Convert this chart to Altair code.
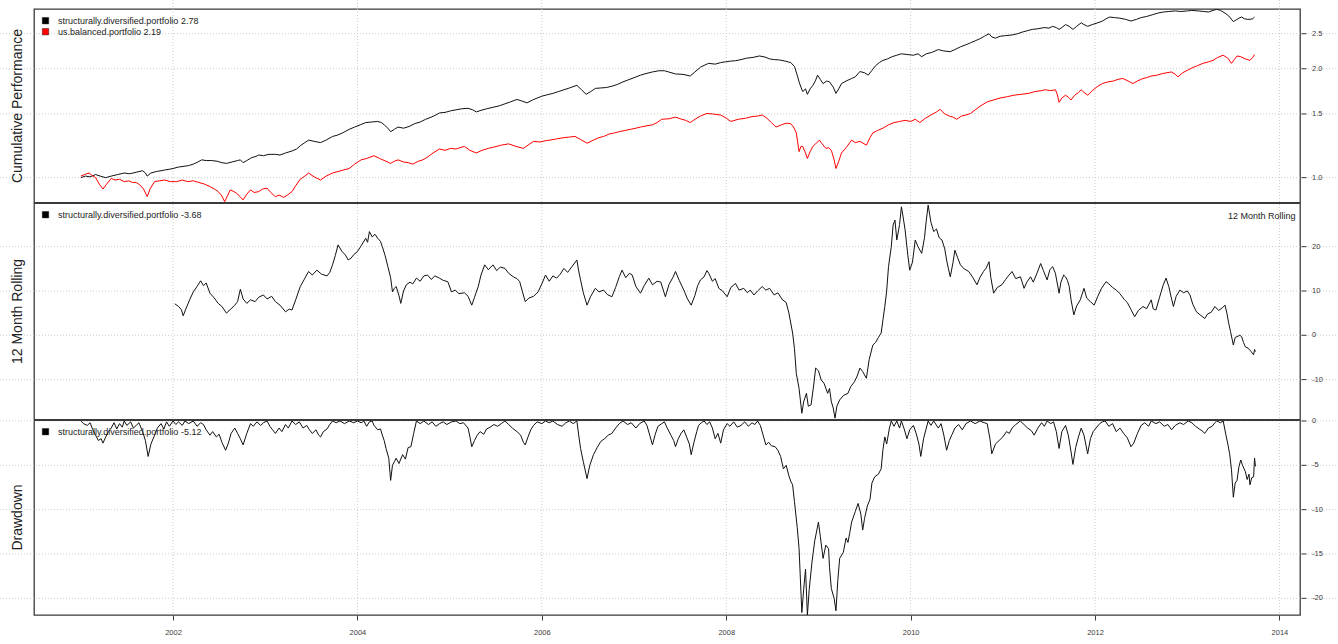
import altair as alt
import pandas as pd

# ---------------------------------------------------------------------------
# Series as (decimal year, value) pairs
# ---------------------------------------------------------------------------
sd_perf = [
    (2001.00, 1.00), (2001.05, 1.01), (2001.10, 1.005), (2001.16, 1.02), (2001.21, 1.01),
    (2001.27, 1.00), (2001.33, 1.01), (2001.40, 1.02), (2001.47, 1.03), (2001.53, 1.025),
    (2001.60, 1.035), (2001.67, 1.045), (2001.70, 1.03), (2001.72, 1.01), (2001.76, 1.03),
    (2001.82, 1.04), (2001.87, 1.045), (2001.91, 1.05), (2001.96, 1.055), (2002.00, 1.06),
    (2002.06, 1.07), (2002.12, 1.075), (2002.17, 1.08), (2002.22, 1.09), (2002.27, 1.105),
    (2002.31, 1.12), (2002.36, 1.115), (2002.42, 1.115), (2002.48, 1.11), (2002.53, 1.10),
    (2002.58, 1.095), (2002.64, 1.105), (2002.70, 1.115), (2002.73, 1.12), (2002.76, 1.10),
    (2002.80, 1.115), (2002.85, 1.135), (2002.90, 1.145), (2002.93, 1.155), (2002.98, 1.15),
    (2003.04, 1.16), (2003.11, 1.16), (2003.16, 1.155), (2003.22, 1.17), (2003.29, 1.185),
    (2003.34, 1.20), (2003.38, 1.225), (2003.43, 1.25), (2003.47, 1.27), (2003.53, 1.26),
    (2003.60, 1.25), (2003.66, 1.27), (2003.73, 1.30), (2003.78, 1.31), (2003.84, 1.33),
    (2003.91, 1.36), (2003.97, 1.38), (2004.03, 1.40), (2004.09, 1.42), (2004.15, 1.425),
    (2004.22, 1.43), (2004.26, 1.42), (2004.29, 1.40), (2004.33, 1.37), (2004.36, 1.34),
    (2004.40, 1.36), (2004.44, 1.38), (2004.50, 1.37), (2004.56, 1.385), (2004.62, 1.41),
    (2004.68, 1.425), (2004.74, 1.45), (2004.80, 1.47), (2004.85, 1.49), (2004.89, 1.51),
    (2004.95, 1.515), (2005.01, 1.53), (2005.07, 1.54), (2005.13, 1.55), (2005.20, 1.555),
    (2005.25, 1.54), (2005.29, 1.52), (2005.34, 1.535), (2005.40, 1.55), (2005.47, 1.565),
    (2005.54, 1.58), (2005.60, 1.60), (2005.66, 1.62), (2005.73, 1.645), (2005.78, 1.63),
    (2005.84, 1.61), (2005.90, 1.64), (2005.95, 1.66), (2006.00, 1.68), (2006.06, 1.695),
    (2006.12, 1.71), (2006.18, 1.73), (2006.24, 1.75), (2006.30, 1.77), (2006.38, 1.80),
    (2006.43, 1.75), (2006.48, 1.70), (2006.53, 1.73), (2006.58, 1.765), (2006.64, 1.77),
    (2006.70, 1.775), (2006.76, 1.79), (2006.82, 1.81), (2006.88, 1.84), (2006.93, 1.86),
    (2007.00, 1.89), (2007.07, 1.92), (2007.13, 1.94), (2007.20, 1.96), (2007.27, 1.975),
    (2007.33, 1.975), (2007.39, 1.955), (2007.45, 1.935), (2007.53, 1.93), (2007.61, 1.91),
    (2007.66, 1.96), (2007.72, 2.02), (2007.77, 2.05), (2007.81, 2.07), (2007.88, 2.06),
    (2007.94, 2.08), (2007.99, 2.09), (2008.05, 2.10), (2008.10, 2.105), (2008.16, 2.12),
    (2008.22, 2.14), (2008.29, 2.15), (2008.36, 2.17), (2008.42, 2.155), (2008.47, 2.13),
    (2008.52, 2.12), (2008.58, 2.115), (2008.64, 2.10), (2008.70, 2.08), (2008.74, 2.03),
    (2008.77, 1.92), (2008.79, 1.84), (2008.81, 1.78), (2008.83, 1.73), (2008.86, 1.76),
    (2008.88, 1.70), (2008.91, 1.76), (2008.94, 1.80), (2008.97, 1.86), (2008.99, 1.92),
    (2009.02, 1.87), (2009.05, 1.82), (2009.09, 1.85), (2009.12, 1.84), (2009.16, 1.78),
    (2009.19, 1.71), (2009.22, 1.76), (2009.25, 1.82), (2009.30, 1.85), (2009.36, 1.88),
    (2009.40, 1.90), (2009.45, 1.965), (2009.50, 1.95), (2009.54, 1.92), (2009.58, 1.98),
    (2009.62, 2.04), (2009.66, 2.08), (2009.70, 2.11), (2009.75, 2.13), (2009.80, 2.16),
    (2009.85, 2.18), (2009.90, 2.20), (2009.96, 2.19), (2010.03, 2.18), (2010.08, 2.20),
    (2010.12, 2.16), (2010.17, 2.20), (2010.23, 2.22), (2010.30, 2.26), (2010.36, 2.24),
    (2010.43, 2.23), (2010.48, 2.26), (2010.54, 2.30), (2010.60, 2.33), (2010.65, 2.36),
    (2010.70, 2.39), (2010.75, 2.42), (2010.80, 2.46), (2010.85, 2.50), (2010.88, 2.45),
    (2010.92, 2.43), (2010.97, 2.46), (2011.03, 2.47), (2011.10, 2.48), (2011.16, 2.50),
    (2011.22, 2.53), (2011.27, 2.55), (2011.32, 2.57), (2011.38, 2.58), (2011.45, 2.60),
    (2011.50, 2.59), (2011.54, 2.62), (2011.58, 2.60), (2011.61, 2.57), (2011.64, 2.60),
    (2011.68, 2.65), (2011.72, 2.62), (2011.76, 2.57), (2011.80, 2.62), (2011.85, 2.68),
    (2011.88, 2.65), (2011.92, 2.62), (2011.97, 2.65), (2012.03, 2.68), (2012.08, 2.71),
    (2012.12, 2.75), (2012.16, 2.78), (2012.21, 2.77), (2012.27, 2.76), (2012.33, 2.74),
    (2012.39, 2.71), (2012.45, 2.74), (2012.50, 2.77), (2012.56, 2.79), (2012.62, 2.82),
    (2012.68, 2.85), (2012.74, 2.87), (2012.80, 2.88), (2012.87, 2.89), (2012.93, 2.88),
    (2013.00, 2.89), (2013.05, 2.90), (2013.12, 2.89), (2013.18, 2.88), (2013.23, 2.87),
    (2013.28, 2.90), (2013.32, 2.92), (2013.36, 2.90), (2013.41, 2.85), (2013.45, 2.80),
    (2013.50, 2.70), (2013.53, 2.73), (2013.56, 2.76), (2013.59, 2.78), (2013.62, 2.75),
    (2013.65, 2.74), (2013.68, 2.74), (2013.71, 2.75), (2013.73, 2.78),
]

ub_perf = [
    (2001.00, 1.01), (2001.04, 1.02), (2001.09, 1.03), (2001.12, 1.015), (2001.16, 1.00),
    (2001.20, 0.96), (2001.24, 0.93), (2001.28, 0.96), (2001.33, 0.995), (2001.37, 0.985),
    (2001.42, 0.99), (2001.47, 0.975), (2001.52, 0.98), (2001.56, 0.97), (2001.60, 0.97),
    (2001.64, 0.955), (2001.68, 0.93), (2001.72, 0.886), (2001.75, 0.93), (2001.80, 0.975),
    (2001.85, 0.98), (2001.91, 0.985), (2001.97, 0.975), (2002.04, 0.975), (2002.10, 0.985),
    (2002.16, 0.975), (2002.22, 0.98), (2002.28, 0.97), (2002.34, 0.96), (2002.40, 0.945),
    (2002.45, 0.93), (2002.49, 0.915), (2002.53, 0.89), (2002.56, 0.858), (2002.59, 0.89),
    (2002.62, 0.925), (2002.66, 0.915), (2002.69, 0.905), (2002.73, 0.885), (2002.76, 0.868),
    (2002.80, 0.90), (2002.84, 0.925), (2002.88, 0.91), (2002.93, 0.915), (2002.97, 0.93),
    (2003.02, 0.935), (2003.06, 0.91), (2003.11, 0.886), (2003.15, 0.895), (2003.20, 0.882),
    (2003.24, 0.895), (2003.29, 0.915), (2003.33, 0.95), (2003.38, 0.99), (2003.43, 1.01),
    (2003.47, 1.03), (2003.53, 1.005), (2003.60, 0.985), (2003.66, 1.01), (2003.73, 1.03),
    (2003.79, 1.04), (2003.85, 1.05), (2003.91, 1.06), (2003.97, 1.09), (2004.04, 1.12),
    (2004.10, 1.13), (2004.18, 1.15), (2004.24, 1.13), (2004.31, 1.11), (2004.36, 1.095),
    (2004.40, 1.11), (2004.44, 1.12), (2004.50, 1.105), (2004.55, 1.10), (2004.60, 1.09),
    (2004.66, 1.11), (2004.71, 1.12), (2004.76, 1.14), (2004.82, 1.17), (2004.89, 1.20),
    (2004.95, 1.19), (2005.01, 1.205), (2005.07, 1.20), (2005.11, 1.21), (2005.16, 1.22),
    (2005.22, 1.19), (2005.29, 1.17), (2005.35, 1.19), (2005.42, 1.205), (2005.48, 1.215),
    (2005.56, 1.23), (2005.64, 1.24), (2005.72, 1.22), (2005.80, 1.205), (2005.86, 1.235),
    (2005.91, 1.26), (2005.98, 1.255), (2006.04, 1.265), (2006.09, 1.27), (2006.16, 1.28),
    (2006.24, 1.29), (2006.30, 1.295), (2006.36, 1.30), (2006.42, 1.275), (2006.49, 1.245),
    (2006.56, 1.27), (2006.62, 1.29), (2006.67, 1.30), (2006.73, 1.32), (2006.79, 1.33),
    (2006.84, 1.34), (2006.90, 1.35), (2006.96, 1.36), (2007.02, 1.37), (2007.07, 1.38),
    (2007.13, 1.39), (2007.20, 1.40), (2007.25, 1.42), (2007.30, 1.45), (2007.38, 1.455),
    (2007.45, 1.47), (2007.50, 1.455), (2007.56, 1.44), (2007.61, 1.42), (2007.66, 1.45),
    (2007.72, 1.48), (2007.79, 1.505), (2007.85, 1.50), (2007.94, 1.49), (2008.00, 1.46),
    (2008.05, 1.43), (2008.13, 1.45), (2008.21, 1.46), (2008.28, 1.475), (2008.34, 1.48),
    (2008.39, 1.49), (2008.44, 1.46), (2008.49, 1.42), (2008.54, 1.38), (2008.60, 1.40),
    (2008.65, 1.415), (2008.70, 1.41), (2008.73, 1.38), (2008.76, 1.33), (2008.79, 1.18),
    (2008.81, 1.22), (2008.83, 1.22), (2008.86, 1.17), (2008.88, 1.13), (2008.91, 1.18),
    (2008.94, 1.22), (2008.97, 1.24), (2009.01, 1.27), (2009.04, 1.24), (2009.08, 1.205),
    (2009.11, 1.21), (2009.14, 1.19), (2009.17, 1.12), (2009.19, 1.06), (2009.22, 1.11),
    (2009.25, 1.17), (2009.30, 1.21), (2009.36, 1.27), (2009.40, 1.25), (2009.45, 1.26),
    (2009.52, 1.23), (2009.56, 1.29), (2009.59, 1.33), (2009.64, 1.35), (2009.70, 1.37),
    (2009.76, 1.40), (2009.82, 1.42), (2009.88, 1.43), (2009.94, 1.44), (2010.00, 1.43),
    (2010.05, 1.45), (2010.10, 1.42), (2010.16, 1.46), (2010.22, 1.49), (2010.28, 1.52),
    (2010.32, 1.545), (2010.37, 1.50), (2010.42, 1.48), (2010.46, 1.47), (2010.50, 1.45),
    (2010.55, 1.48), (2010.60, 1.49), (2010.65, 1.505), (2010.70, 1.54), (2010.76, 1.58),
    (2010.83, 1.62), (2010.90, 1.64), (2010.97, 1.66), (2011.05, 1.675), (2011.12, 1.69),
    (2011.20, 1.70), (2011.28, 1.71), (2011.35, 1.73), (2011.42, 1.74), (2011.46, 1.75),
    (2011.52, 1.74), (2011.57, 1.75), (2011.59, 1.70), (2011.61, 1.615), (2011.64, 1.66),
    (2011.68, 1.69), (2011.71, 1.67), (2011.74, 1.64), (2011.78, 1.69), (2011.82, 1.72),
    (2011.85, 1.75), (2011.88, 1.72), (2011.92, 1.69), (2011.97, 1.74), (2012.03, 1.79),
    (2012.08, 1.82), (2012.14, 1.84), (2012.20, 1.85), (2012.25, 1.87), (2012.30, 1.88),
    (2012.36, 1.85), (2012.41, 1.82), (2012.46, 1.85), (2012.52, 1.88), (2012.56, 1.89),
    (2012.61, 1.91), (2012.67, 1.92), (2012.73, 1.94), (2012.78, 1.95), (2012.83, 1.96),
    (2012.87, 1.93), (2012.90, 1.90), (2012.95, 1.95), (2013.00, 1.98), (2013.05, 2.01),
    (2013.11, 2.04), (2013.17, 2.07), (2013.23, 2.09), (2013.28, 2.11), (2013.33, 2.15),
    (2013.39, 2.18), (2013.44, 2.14), (2013.48, 2.07), (2013.51, 2.12), (2013.54, 2.17),
    (2013.58, 2.16), (2013.63, 2.13), (2013.68, 2.11), (2013.71, 2.15), (2013.73, 2.19),
]

rolling_12m = [
    (2002.02, 7.1), (2002.06, 6.5), (2002.09, 5.8), (2002.11, 4.4), (2002.14, 6.0),
    (2002.18, 8.0), (2002.22, 9.8), (2002.26, 11.0), (2002.30, 12.3), (2002.33, 11.2),
    (2002.36, 11.8), (2002.40, 9.5), (2002.44, 8.6), (2002.49, 7.2), (2002.53, 6.5),
    (2002.58, 5.0), (2002.62, 5.8), (2002.67, 6.8), (2002.70, 7.6), (2002.73, 10.4),
    (2002.76, 8.2), (2002.80, 7.2), (2002.84, 8.0), (2002.89, 7.6), (2002.93, 8.6),
    (2002.98, 9.1), (2003.02, 8.2), (2003.07, 8.8), (2003.11, 7.6), (2003.16, 6.8),
    (2003.22, 5.3), (2003.26, 5.9), (2003.29, 5.7), (2003.33, 8.0), (2003.38, 11.0),
    (2003.42, 12.5), (2003.47, 14.4), (2003.51, 13.6), (2003.56, 14.7), (2003.61, 13.8),
    (2003.67, 13.4), (2003.70, 14.2), (2003.73, 15.9), (2003.76, 18.0), (2003.79, 20.4),
    (2003.83, 19.0), (2003.87, 18.1), (2003.90, 17.0), (2003.93, 17.4), (2003.96, 18.2),
    (2004.00, 18.9), (2004.04, 20.2), (2004.09, 21.9), (2004.11, 21.0), (2004.13, 23.4),
    (2004.16, 22.2), (2004.19, 22.8), (2004.22, 21.9), (2004.25, 21.2), (2004.27, 20.0),
    (2004.30, 18.0), (2004.33, 15.5), (2004.36, 13.0), (2004.38, 9.8), (2004.40, 10.6),
    (2004.42, 11.0), (2004.45, 9.0), (2004.47, 7.2), (2004.50, 10.0), (2004.53, 11.4),
    (2004.57, 12.0), (2004.60, 11.6), (2004.64, 12.9), (2004.68, 12.2), (2004.72, 13.4),
    (2004.76, 13.6), (2004.80, 12.6), (2004.84, 13.4), (2004.89, 12.9), (2004.93, 12.4),
    (2004.98, 12.1), (2005.02, 9.8), (2005.06, 10.2), (2005.10, 9.4), (2005.16, 9.6),
    (2005.20, 8.8), (2005.24, 6.8), (2005.27, 8.6), (2005.31, 11.0), (2005.34, 13.6),
    (2005.38, 15.9), (2005.42, 14.8), (2005.47, 15.9), (2005.51, 14.6), (2005.55, 15.4),
    (2005.60, 15.1), (2005.64, 14.0), (2005.69, 13.2), (2005.73, 12.8), (2005.76, 12.1),
    (2005.79, 9.8), (2005.82, 7.6), (2005.86, 8.4), (2005.91, 8.8), (2005.96, 9.8),
    (2006.00, 11.6), (2006.04, 13.6), (2006.08, 12.2), (2006.12, 13.4), (2006.16, 12.9),
    (2006.20, 13.8), (2006.24, 15.1), (2006.28, 14.2), (2006.33, 15.6), (2006.38, 17.0),
    (2006.40, 14.5), (2006.42, 12.5), (2006.45, 9.6), (2006.49, 6.8), (2006.53, 8.8),
    (2006.58, 10.6), (2006.62, 9.8), (2006.67, 10.2), (2006.71, 9.2), (2006.76, 8.7),
    (2006.80, 10.8), (2006.84, 13.2), (2006.87, 14.7), (2006.91, 13.0), (2006.95, 14.0),
    (2006.98, 13.6), (2007.02, 11.0), (2007.07, 9.5), (2007.11, 11.2), (2007.16, 12.9),
    (2007.20, 11.4), (2007.25, 12.2), (2007.29, 12.0), (2007.34, 8.7), (2007.38, 11.5),
    (2007.42, 13.0), (2007.45, 14.4), (2007.49, 12.4), (2007.54, 10.2), (2007.58, 8.2),
    (2007.62, 6.8), (2007.66, 9.0), (2007.69, 11.2), (2007.72, 12.5), (2007.76, 13.2),
    (2007.79, 14.6), (2007.81, 14.0), (2007.85, 12.2), (2007.88, 12.8), (2007.92, 10.6),
    (2007.96, 10.0), (2008.01, 8.7), (2008.05, 10.8), (2008.10, 11.7), (2008.14, 10.2),
    (2008.19, 10.6), (2008.23, 9.6), (2008.26, 10.2), (2008.30, 9.1), (2008.34, 10.0),
    (2008.39, 11.0), (2008.43, 10.2), (2008.47, 10.6), (2008.52, 9.1), (2008.56, 9.6),
    (2008.61, 8.0), (2008.65, 7.4), (2008.68, 5.0), (2008.72, 0.5), (2008.74, -3.0),
    (2008.76, -8.6), (2008.79, -12.0), (2008.82, -17.6), (2008.84, -15.0), (2008.87, -13.1),
    (2008.89, -16.0), (2008.92, -15.7), (2008.95, -11.0), (2008.97, -7.4), (2009.00, -8.0),
    (2009.03, -10.1), (2009.06, -10.8), (2009.10, -13.1), (2009.12, -12.0), (2009.14, -15.0),
    (2009.16, -16.4), (2009.18, -18.7), (2009.20, -16.0), (2009.23, -14.6), (2009.27, -13.6),
    (2009.32, -13.1), (2009.35, -11.6), (2009.39, -10.5), (2009.42, -9.2), (2009.45, -7.4),
    (2009.48, -8.2), (2009.52, -9.7), (2009.55, -5.5), (2009.59, -2.2), (2009.62, -1.6),
    (2009.65, -0.5), (2009.68, 0.5), (2009.70, 3.5), (2009.72, 6.5), (2009.74, 10.0),
    (2009.76, 15.5), (2009.79, 20.0), (2009.81, 24.9), (2009.83, 26.0), (2009.85, 21.5),
    (2009.88, 25.0), (2009.90, 29.0), (2009.92, 26.5), (2009.94, 23.8), (2009.97, 18.0),
    (2009.99, 14.7), (2010.02, 16.5), (2010.05, 21.5), (2010.08, 20.0), (2010.12, 18.5),
    (2010.15, 22.0), (2010.17, 26.0), (2010.19, 29.4), (2010.22, 25.5), (2010.25, 23.4),
    (2010.28, 24.0), (2010.31, 22.0), (2010.34, 21.5), (2010.37, 19.5), (2010.39, 17.0),
    (2010.41, 15.0), (2010.43, 13.2), (2010.46, 16.5), (2010.48, 19.2), (2010.51, 17.5),
    (2010.54, 15.9), (2010.58, 15.0), (2010.63, 14.4), (2010.67, 13.2), (2010.72, 11.4),
    (2010.75, 13.0), (2010.79, 14.4), (2010.82, 15.2), (2010.85, 16.6), (2010.87, 13.0),
    (2010.90, 9.5), (2010.94, 10.8), (2010.99, 11.4), (2011.03, 12.6), (2011.06, 13.4),
    (2011.10, 14.4), (2011.14, 12.8), (2011.19, 13.2), (2011.21, 12.0), (2011.23, 10.6),
    (2011.26, 12.0), (2011.30, 13.2), (2011.33, 12.0), (2011.37, 14.0), (2011.41, 16.2),
    (2011.44, 14.6), (2011.48, 12.5), (2011.51, 14.8), (2011.54, 15.5), (2011.57, 14.0),
    (2011.61, 9.5), (2011.63, 12.0), (2011.66, 13.6), (2011.68, 13.2), (2011.70, 12.4),
    (2011.72, 11.0), (2011.74, 8.0), (2011.77, 4.6), (2011.80, 6.6), (2011.84, 8.0),
    (2011.88, 10.6), (2011.91, 8.4), (2011.95, 7.6), (2011.99, 6.8), (2012.03, 8.8),
    (2012.07, 10.6), (2012.12, 12.1), (2012.15, 11.6), (2012.19, 10.8), (2012.23, 10.2),
    (2012.27, 9.4), (2012.32, 8.0), (2012.35, 7.4), (2012.39, 5.8), (2012.43, 4.2),
    (2012.47, 5.6), (2012.52, 6.5), (2012.56, 6.0), (2012.61, 8.0), (2012.63, 6.0),
    (2012.66, 5.7), (2012.70, 8.6), (2012.74, 11.4), (2012.77, 12.9), (2012.80, 11.0),
    (2012.83, 8.2), (2012.85, 6.5), (2012.88, 8.8), (2012.92, 10.2), (2012.96, 9.6),
    (2013.00, 10.0), (2013.03, 9.1), (2013.06, 7.0), (2013.10, 5.3), (2013.14, 4.6),
    (2013.19, 3.8), (2013.22, 4.8), (2013.26, 5.2), (2013.30, 6.5), (2013.34, 5.6),
    (2013.38, 6.2), (2013.41, 6.8), (2013.43, 5.0), (2013.45, 2.7), (2013.47, 0.8),
    (2013.50, -2.2), (2013.52, -0.5), (2013.54, -0.3), (2013.57, 0.0), (2013.59, -0.3),
    (2013.61, -1.6), (2013.63, -2.6), (2013.66, -2.9), (2013.69, -3.6), (2013.72, -4.4),
    (2013.73, -3.2), (2013.74, -3.68),
]

drawdown = [
    (2001.00, 0.0), (2001.03, -0.3), (2001.07, -0.5), (2001.10, -0.2), (2001.13, -1.0),
    (2001.16, -1.6), (2001.19, -2.2), (2001.22, -2.0), (2001.24, -2.5), (2001.27, -1.8),
    (2001.30, -1.2), (2001.33, -0.8), (2001.36, -0.2), (2001.39, -0.9), (2001.42, -0.3),
    (2001.45, -0.7), (2001.47, 0.0), (2001.50, -0.5), (2001.54, -0.1), (2001.57, -0.8),
    (2001.60, -0.5), (2001.63, -0.2), (2001.67, -1.2), (2001.70, -2.2), (2001.73, -4.0),
    (2001.76, -2.6), (2001.80, -1.6), (2001.83, -0.8), (2001.87, -0.3), (2001.90, -0.9),
    (2001.93, -0.1), (2001.96, -0.6), (2002.00, 0.0), (2002.03, -0.4), (2002.06, -0.1),
    (2002.10, -0.5), (2002.13, 0.0), (2002.17, -0.3), (2002.22, 0.0), (2002.26, -0.6),
    (2002.30, -0.2), (2002.33, -0.4), (2002.36, -1.0), (2002.40, -1.6), (2002.43, -1.2),
    (2002.47, -1.8), (2002.50, -1.5), (2002.53, -2.4), (2002.57, -3.3), (2002.60, -2.5),
    (2002.63, -1.4), (2002.67, -0.8), (2002.70, -1.4), (2002.73, -2.0), (2002.76, -2.7),
    (2002.80, -1.4), (2002.84, -0.3), (2002.87, -0.6), (2002.91, -0.1), (2002.95, -0.5),
    (2002.98, -0.2), (2003.02, 0.0), (2003.05, -0.6), (2003.08, -1.0), (2003.11, -1.4),
    (2003.15, -0.8), (2003.18, -1.2), (2003.22, -0.4), (2003.25, -0.8), (2003.29, 0.0),
    (2003.33, -0.4), (2003.37, -0.1), (2003.41, -0.8), (2003.45, -0.5), (2003.48, -1.0),
    (2003.51, -1.4), (2003.55, -1.0), (2003.58, -1.6), (2003.60, -1.8), (2003.63, -1.2),
    (2003.67, -0.9), (2003.70, -0.4), (2003.73, 0.0), (2003.77, -0.2), (2003.81, 0.0),
    (2003.86, -0.3), (2003.91, 0.0), (2003.96, -0.2), (2004.00, 0.0), (2004.04, -0.2),
    (2004.07, 0.0), (2004.10, -0.6), (2004.13, -0.1), (2004.16, 0.0), (2004.18, -0.5),
    (2004.22, -1.0), (2004.25, -0.9), (2004.27, -1.6), (2004.29, -2.2), (2004.31, -3.1),
    (2004.34, -4.2), (2004.36, -6.7), (2004.38, -5.0), (2004.40, -4.6), (2004.42, -4.2),
    (2004.45, -4.8), (2004.49, -3.8), (2004.52, -4.3), (2004.55, -3.0), (2004.58, -2.9),
    (2004.61, -1.4), (2004.64, 0.0), (2004.68, -0.3), (2004.72, 0.0), (2004.77, -0.4),
    (2004.81, -0.1), (2004.85, -0.6), (2004.89, -0.3), (2004.93, -0.1), (2004.97, -0.4),
    (2005.02, -0.1), (2005.07, 0.0), (2005.11, -0.3), (2005.15, -0.2), (2005.20, -0.8),
    (2005.22, -1.8), (2005.24, -2.9), (2005.27, -2.2), (2005.30, -1.6), (2005.33, -1.2),
    (2005.37, -1.5), (2005.40, -0.9), (2005.44, -0.7), (2005.48, -0.4), (2005.52, -0.6),
    (2005.56, -0.3), (2005.60, 0.0), (2005.64, -0.4), (2005.68, -0.8), (2005.73, -1.2),
    (2005.77, -1.6), (2005.80, -2.4), (2005.82, -2.7), (2005.85, -1.8), (2005.88, -1.0),
    (2005.91, -0.5), (2005.95, -0.1), (2006.00, -0.3), (2006.04, 0.0), (2006.08, -0.2),
    (2006.12, 0.0), (2006.17, -0.4), (2006.22, -0.6), (2006.26, -0.2), (2006.30, 0.0),
    (2006.34, -0.3), (2006.38, 0.0), (2006.40, -1.6), (2006.42, -3.1), (2006.45, -4.6),
    (2006.49, -6.5), (2006.52, -5.0), (2006.56, -3.8), (2006.60, -3.0), (2006.64, -2.3),
    (2006.68, -2.0), (2006.72, -1.6), (2006.76, -1.4), (2006.80, -0.8), (2006.84, -0.3),
    (2006.88, 0.0), (2006.93, -0.4), (2006.97, -0.2), (2007.02, -0.8), (2007.06, -0.3),
    (2007.11, 0.0), (2007.14, -0.5), (2007.17, -1.6), (2007.20, -2.7), (2007.23, -1.5),
    (2007.26, -0.6), (2007.30, -0.3), (2007.33, -0.1), (2007.36, -0.8), (2007.40, -1.6),
    (2007.43, -2.2), (2007.45, -2.9), (2007.48, -2.0), (2007.51, -1.4), (2007.54, -1.0),
    (2007.57, -1.8), (2007.60, -2.6), (2007.62, -3.8), (2007.65, -2.4), (2007.68, -1.2),
    (2007.70, -0.5), (2007.73, -0.2), (2007.76, 0.0), (2007.79, -0.4), (2007.82, -0.1),
    (2007.85, -0.8), (2007.88, -2.0), (2007.91, -1.4), (2007.94, -2.5), (2007.97, -1.0),
    (2008.01, -0.3), (2008.04, -0.6), (2008.08, -0.1), (2008.12, -0.7), (2008.16, -0.5),
    (2008.20, -0.1), (2008.24, -0.6), (2008.28, -0.2), (2008.31, -0.4), (2008.34, 0.0),
    (2008.37, -0.5), (2008.40, -1.6), (2008.43, -2.7), (2008.46, -2.4), (2008.49, -2.8),
    (2008.53, -2.9), (2008.56, -3.3), (2008.59, -4.0), (2008.62, -5.4), (2008.65, -5.0),
    (2008.68, -6.2), (2008.70, -6.8), (2008.72, -7.2), (2008.74, -9.1), (2008.77, -12.0),
    (2008.79, -14.4), (2008.82, -21.6), (2008.84, -19.0), (2008.86, -16.7), (2008.88, -21.9),
    (2008.90, -19.0), (2008.93, -15.9), (2008.96, -13.5), (2009.00, -11.4), (2009.02, -13.0),
    (2009.05, -15.5), (2009.08, -14.0), (2009.11, -14.4), (2009.12, -16.5), (2009.14, -18.9),
    (2009.17, -20.0), (2009.19, -21.4), (2009.21, -18.0), (2009.23, -15.5), (2009.27, -14.8),
    (2009.30, -13.2), (2009.32, -13.7), (2009.34, -12.6), (2009.36, -11.4), (2009.40, -10.2),
    (2009.43, -9.3), (2009.46, -10.5), (2009.48, -12.3), (2009.50, -11.0), (2009.53, -9.6),
    (2009.56, -8.8), (2009.58, -7.0), (2009.61, -6.3), (2009.65, -6.0), (2009.68, -5.4),
    (2009.70, -3.2), (2009.72, -1.8), (2009.74, -2.6), (2009.77, -0.8), (2009.79, 0.0),
    (2009.82, -0.6), (2009.85, 0.0), (2009.88, -0.8), (2009.90, 0.0), (2009.93, -0.9),
    (2009.96, -2.0), (2009.99, -1.0), (2010.03, -0.5), (2010.06, -1.4), (2010.09, -2.6),
    (2010.11, -4.0), (2010.14, -2.0), (2010.17, -0.8), (2010.19, 0.0), (2010.22, -0.5),
    (2010.25, 0.0), (2010.30, -0.8), (2010.33, -0.3), (2010.36, -1.6), (2010.39, -3.3),
    (2010.42, -2.2), (2010.45, -1.5), (2010.48, -0.8), (2010.52, -0.4), (2010.56, -1.0),
    (2010.60, -0.3), (2010.65, 0.0), (2010.70, -0.3), (2010.75, 0.0), (2010.80, -0.2),
    (2010.83, -0.3), (2010.86, -2.0), (2010.88, -3.7), (2010.92, -2.6), (2010.96, -2.2),
    (2011.00, -1.8), (2011.04, -1.2), (2011.07, -1.4), (2011.10, -0.8), (2011.14, -0.4),
    (2011.19, 0.0), (2011.23, -0.4), (2011.27, -0.8), (2011.31, -1.1), (2011.34, -1.6),
    (2011.38, -0.8), (2011.42, -0.2), (2011.45, -0.6), (2011.48, 0.0), (2011.52, -0.3),
    (2011.55, -0.1), (2011.58, -1.2), (2011.61, -3.1), (2011.64, -1.2), (2011.68, -0.5),
    (2011.71, -1.6), (2011.74, -3.5), (2011.76, -4.9), (2011.79, -3.0), (2011.82, -1.8),
    (2011.85, -0.8), (2011.88, -1.6), (2011.92, -3.7), (2011.95, -2.0), (2011.98, -1.2),
    (2012.01, -0.8), (2012.05, -0.3), (2012.08, -0.1), (2012.11, 0.0), (2012.15, -0.6),
    (2012.19, -0.3), (2012.23, -1.2), (2012.27, -0.8), (2012.31, -1.4), (2012.35, -1.9),
    (2012.39, -2.9), (2012.42, -2.5), (2012.46, -1.4), (2012.50, -0.5), (2012.54, -0.2),
    (2012.58, -0.6), (2012.61, 0.0), (2012.66, -0.3), (2012.70, -0.1), (2012.75, -0.6),
    (2012.79, -0.4), (2012.83, -1.0), (2012.87, -0.5), (2012.92, -0.2), (2012.96, -0.4),
    (2013.01, 0.0), (2013.05, -0.2), (2013.09, -0.6), (2013.13, -0.9), (2013.16, -1.1),
    (2013.19, -1.4), (2013.23, -0.8), (2013.27, -0.6), (2013.30, -0.2), (2013.32, 0.0),
    (2013.36, -0.2), (2013.39, 0.0), (2013.42, -1.6), (2013.44, -2.6), (2013.46, -3.7),
    (2013.48, -5.5), (2013.50, -8.6), (2013.52, -7.0), (2013.54, -6.7), (2013.56, -5.2),
    (2013.58, -4.4), (2013.60, -5.0), (2013.63, -5.7), (2013.65, -6.6), (2013.67, -6.0),
    (2013.68, -7.2), (2013.70, -6.4), (2013.72, -6.3), (2013.73, -4.2), (2013.74, -5.12),
]

grid_years = [2002, 2004, 2006, 2008, 2010, 2012, 2014]
perf_ticks = [1.0, 1.5, 2.0, 2.5]
roll_ticks = [-10, 0, 10, 20]
dd_ticks = [-20, -15, -10, -5, 0]

SD_NAME = "structurally.diversified.portfolio"
UB_NAME = "us.balanced.portfolio"

# ---------------------------------------------------------------------------
# Layout: one plot area split into three stacked panels by pixel ranges
# ---------------------------------------------------------------------------
W = 1266
H1, H2, H3 = 194, 217, 195
TOP1, TOP2, TOP3 = 0, H1, H1 + H2
H = H1 + H2 + H3
PAD_L, PAD_T = 34, 9
PAD_R = 1338 - PAD_L - W
PAD_B = 644 - PAD_T - H

FONT = "Liberation Sans"
GRID = "#cccccc"
INK = "#222222"
AXIS_INK = "#3a3a3a"
FRAME = "#3a3a3a"

xs = alt.Scale(domain=[2000.492, 2014.223], nice=False, zero=False)
x_axis = alt.Axis(
    values=grid_years, format="d", title=None, grid=False, domain=False,
    tickSize=5, tickColor=AXIS_INK, labelPadding=8, labelFontSize=7.5,
    labelFont=FONT, labelColor=AXIS_INK, labelFlush=False, labelOverlap=False,
)
X = lambda f: alt.X(f, scale=xs, axis=x_axis)


def yscale(top, height, domain, log=False):
    kw = dict(domain=domain, range=[top + height, top], nice=False, zero=False, clamp=True)
    if log:
        kw["type"] = "log"
    return alt.Scale(**kw)


perf_scale = yscale(TOP1, H1, [0.851, 2.926], log=True)
roll_scale = yscale(TOP2, H2, [-19.12, 29.86])
dd_scale = yscale(TOP3, H3, [-21.88, 0.11])


def frame(points):
    return pd.DataFrame(points, columns=["t", "v"])


def one_row():
    return alt.Data(values=[{}])


def panel_layers(top, height, ys, ticks, fmt, series, legend, title, note=None):
    Y = lambda f: alt.Y(f, scale=ys, axis=None)
    tick_df = pd.DataFrame({"v": ticks, "lab": [format(v, fmt) for v in ticks]})
    out = []
    # horizontal dotted grid across the full figure width
    out.append(
        alt.Chart(tick_df).mark_rule(clip=False, color=GRID, strokeDash=[1, 2], strokeWidth=1)
        .encode(y=Y("v:Q"), x=alt.value(-PAD_L), x2=alt.value(W + PAD_R))
    )
    # right-hand axis ticks and labels
    out.append(
        alt.Chart(tick_df).mark_rule(clip=False, color=AXIS_INK, strokeWidth=1)
        .encode(y=Y("v:Q"), x=alt.value(W + 1.5), x2=alt.value(W + 6.5))
    )
    out.append(
        alt.Chart(tick_df).mark_text(
            clip=False, align="left", baseline="middle", font=FONT,
            fontSize=7.5, color=AXIS_INK
        ).encode(y=Y("v:Q"), x=alt.value(W + 12), text="lab:N")
    )
    for points, color in series:
        out.append(
            alt.Chart(frame(points)).mark_line(color=color, strokeWidth=1, clip=True)
            .encode(x=X("t:Q"), y=Y("v:Q"), order="t:Q")
        )
    # legend entries: coloured square + label
    for i, (label, color) in enumerate(legend):
        yy = top + 11.7 + 11 * i
        out.append(
            alt.Chart(one_row()).mark_square(
                size=42, color=color, opacity=1, stroke="#111", strokeWidth=0.4
            ).encode(x=alt.value(11.5), y=alt.value(yy))
        )
        out.append(
            alt.Chart(one_row()).mark_text(
                align="left", baseline="middle", font=FONT, fontSize=9, color=INK
            ).encode(x=alt.value(24), y=alt.value(yy), text=alt.value(label))
        )
    if note:
        out.append(
            alt.Chart(one_row()).mark_text(
                align="right", baseline="middle", font=FONT, fontSize=9, color=INK
            ).encode(x=alt.value(W - 4.5), y=alt.value(top + 12.5), text=alt.value(note))
        )
    # panel title in the left margin
    out.append(
        alt.Chart(one_row()).mark_text(
            align="center", baseline="middle", angle=270, font=FONT,
            fontSize=14, color=INK
        ).encode(x=alt.value(-16.5), y=alt.value(top + height / 2), text=alt.value(title))
    )
    return out


layers = []
# vertical dotted grid at the year ticks, running up into the top margin
layers.append(
    alt.Chart(pd.DataFrame({"t": grid_years})).mark_rule(
        clip=False, color=GRID, strokeDash=[1, 2], strokeWidth=1
    ).encode(x=X("t:Q"), y=alt.value(-PAD_T), y2=alt.value(H))
)
layers += panel_layers(
    TOP1, H1, perf_scale, perf_ticks, ".1f",
    [(sd_perf, "#111111"), (ub_perf, "#ff0000")],
    [(f"{SD_NAME} {sd_perf[-1][1]:.2f}", "#000000"),
     (f"{UB_NAME} {ub_perf[-1][1]:.2f}", "#ff0000")],
    "Cumulative Performance",
)
layers += panel_layers(
    TOP2, H2, roll_scale, roll_ticks, "d",
    [(rolling_12m, "#111111")],
    [(f"{SD_NAME} {rolling_12m[-1][1]:.2f}", "#000000")],
    "12 Month Rolling", note="12 Month Rolling",
)
layers += panel_layers(
    TOP3, H3, dd_scale, dd_ticks, "d",
    [(drawdown, "#111111")],
    [(f"{SD_NAME} {drawdown[-1][1]:.2f}", "#000000")],
    "Drawdown",
)
# borders between the stacked panels
for edge in (TOP2, TOP3):
    layers.append(
        alt.Chart(one_row()).mark_rule(clip=False, color=FRAME, strokeWidth=2)
        .encode(y=alt.value(edge), x=alt.value(0), x2=alt.value(W))
    )

chart = alt.layer(*layers).resolve_scale(y="independent").properties(
    width=W, height=H,
    autosize=alt.AutoSizeParams(type="none"),
    padding={"left": PAD_L, "top": PAD_T, "right": PAD_R, "bottom": PAD_B},
    background="white",
).configure_view(stroke=FRAME, strokeWidth=1.3)

chart.save("out.html", embed_options={"renderer": "svg", "actions": False})
